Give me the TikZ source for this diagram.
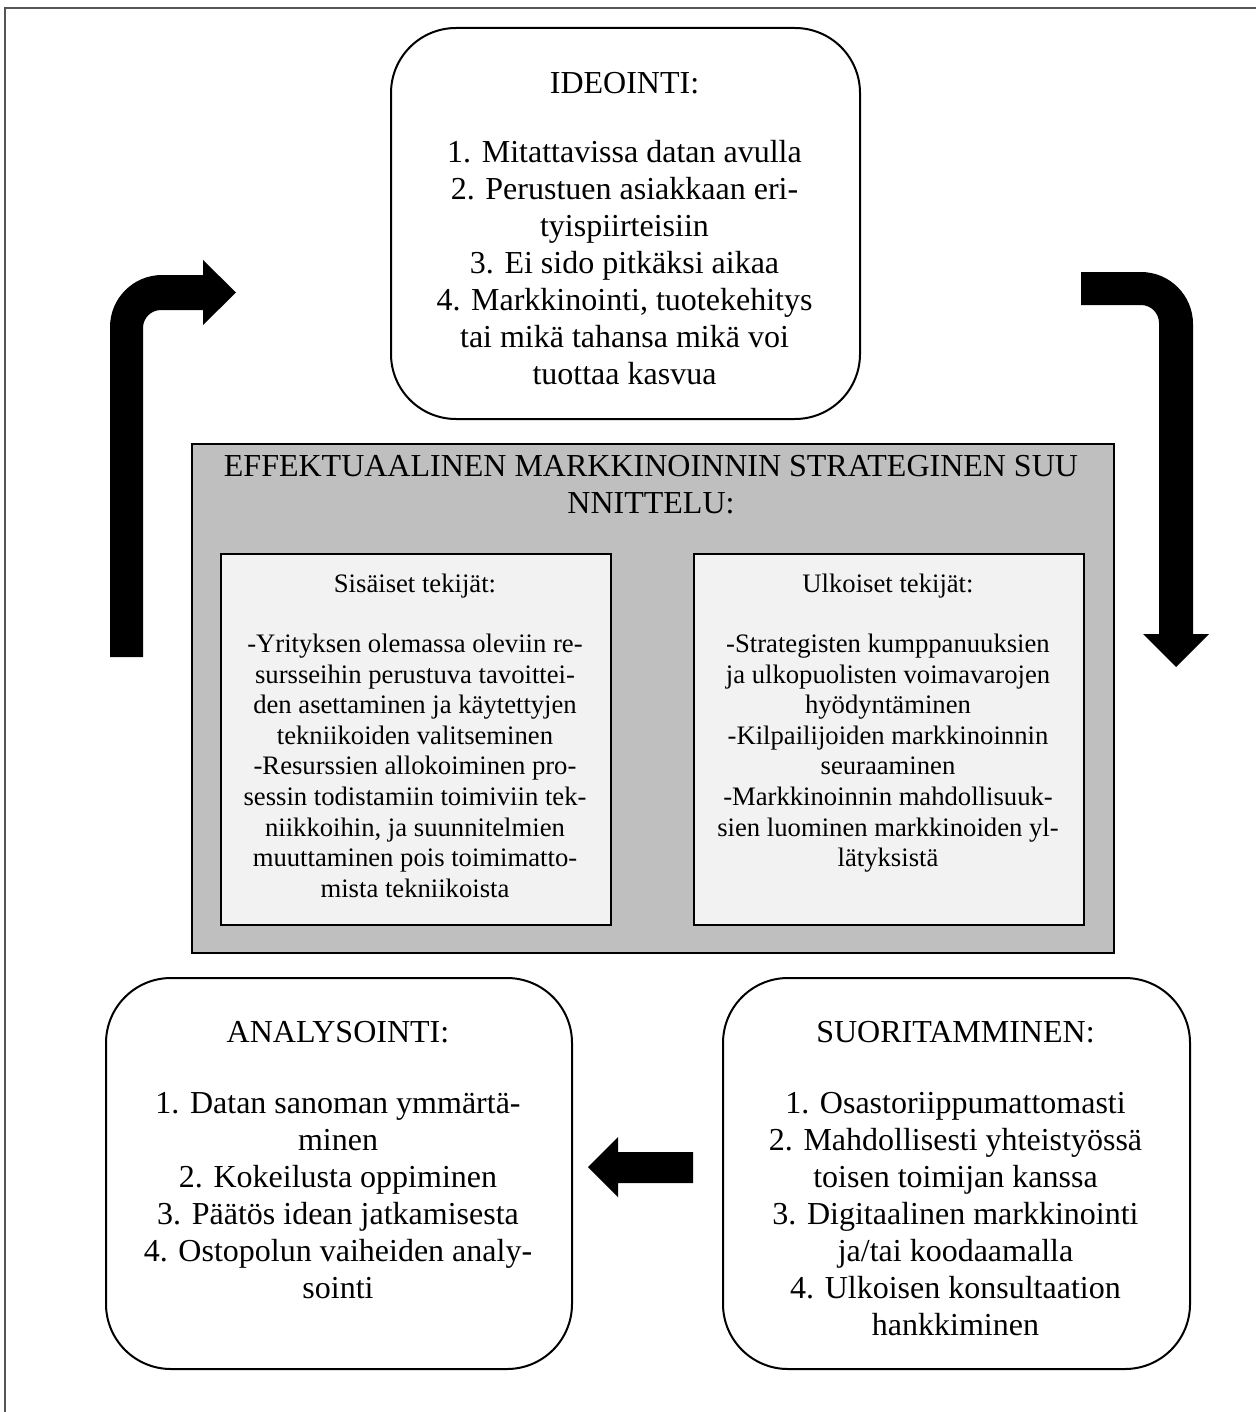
\documentclass[tikz,border=0pt]{standalone}
\usepackage{fontspec}
\setmainfont{Liberation Serif}
\definecolor{framegray}{HTML}{555555}
\definecolor{boxgray}{HTML}{BFBFBF}
\definecolor{innergray}{HTML}{F2F2F2}
\tikzset{
  roundbox/.style={draw=black, line width=1pt, fill=white, rounded corners=32.5pt, inner sep=0pt, anchor=north west},
  graybox/.style={draw=black, line width=1pt, fill=boxgray, inner sep=0pt, anchor=north west},
  innerbox/.style={draw=black, line width=1pt, fill=innergray, inner sep=0pt, anchor=north west},
  bigtxt/.style={font=\fontsize{16}{18.5}\selectfont, align=center, inner sep=0pt, anchor=north},
  smalltxt/.style={font=\fontsize{13.33}{15.3}\selectfont, align=center, inner sep=0pt, anchor=north},
  blockarrow/.style={fill=black}
}
\begin{document}
\begin{tikzpicture}[x=0.5pt, y=-0.5pt]
\useasboundingbox (0,0) rectangle (1256,1412);
\fill[white] (0,0) rectangle (1256,1412);
% page frame (top and left visible)
\coordinate (fbl) at (5,1412);
\coordinate (ftl) at (5,8);
\coordinate (ftr) at (1256,8);
\draw[framegray, line width=1pt] (fbl) -- (ftl) -- (ftr);

% boxes
\node[roundbox, minimum width=234.5pt, minimum height=195.5pt] (idea) at (390,27) {};
\node[graybox, minimum width=461pt, minimum height=254.5pt] (plan) at (191,443) {};
\node[innerbox, minimum width=195pt, minimum height=185.5pt] (inner) at (220,553) {};
\node[innerbox, minimum width=195pt, minimum height=185.5pt] (outer) at (693,553) {};
\node[roundbox, minimum width=233pt, minimum height=195.5pt] (anal) at (105,977) {};
\node[roundbox, minimum width=233.5pt, minimum height=195.5pt] (exec) at (722,977) {};

% texts
\node[bigtxt] (ideah) at (624.5,67) {\strut IDEOINTI:};
\node[bigtxt] (ideab) at (624.5,136) {\strut 1. Mitattavissa datan avulla\\
2. Perustuen asiakkaan eri-\\
tyispiirteisiin\\
3. Ei sido pitkäksi aikaa\\
4. Markkinointi, tuotekehitys\\
tai mikä tahansa mikä voi\\
tuottaa kasvua};

\node[bigtxt] (planh) at (651,450) {\strut EFFEKTUAALINEN MARKKINOINNIN STRATEGINEN SUU\\
NNITTELU:};

\node[smalltxt] (innerh) at (415,570.6) {\strut Sisäiset tekijät:};
\node[smalltxt] (innerb) at (415,630.6) {\strut -Yrityksen olemassa oleviin re-\\
sursseihin perustuva tavoittei-\\
den asettaminen ja käytettyjen\\
tekniikoiden valitseminen\\
-Resurssien allokoiminen pro-\\
sessin todistamiin toimiviin tek-\\
niikkoihin, ja suunnitelmien\\
muuttaminen pois toimimatto-\\
mista tekniikoista};

\node[smalltxt] (outerh) at (888,570.6) {\strut Ulkoiset tekijät:};
\node[smalltxt] (outerb) at (888,630.6) {\strut -Strategisten kumppanuuksien\\
ja ulkopuolisten voimavarojen\\
hyödyntäminen\\
-Kilpailijoiden markkinoinnin\\
seuraaminen\\
-Markkinoinnin mahdollisuuk-\\
sien luominen markkinoiden yl-\\
lätyksistä};

\node[bigtxt] (analh) at (338,1016) {\strut ANALYSOINTI:};
\node[bigtxt] (analb) at (338,1087) {\strut 1. Datan sanoman ymmärtä-\\
minen\\
2. Kokeilusta oppiminen\\
3. Päätös idean jatkamisesta\\
4. Ostopolun vaiheiden analy-\\
sointi};

\node[bigtxt] (exech) at (955.5,1016) {\strut SUORITAMMINEN:};
\node[bigtxt] (execb) at (955.5,1087) {\strut 1. Osastoriippumattomasti\\
2. Mahdollisesti yhteistyössä\\
toisen toimijan kanssa\\
3. Digitaalinen markkinointi\\
ja/tai koodaamalla\\
4. Ulkoisen konsultaation\\
hankkiminen};

% block arrows
% left: up then right
\fill[blockarrow] (110,657) -- (110,327)
  .. controls (110,298.3) and (133.3,275) .. (162,275)
  -- (203,275) -- (203,260) -- (236,292.5) -- (203,325) -- (203,310)
  -- (161,310)
  .. controls (151.06,310) and (143,318.06) .. (143,328)
  -- (143,657) -- cycle;
% right: right then down
\fill[blockarrow] (1081,272) -- (1141,272)
  .. controls (1169.7,272) and (1193,295.3) .. (1193,324)
  -- (1193,634) -- (1209,634) -- (1176,667) -- (1143,634) -- (1159,634)
  -- (1159,323)
  .. controls (1159,313.06) and (1150.94,305) .. (1141,305)
  -- (1081,305) -- cycle;
% bottom: pointing left
\fill[blockarrow] (693,1152) -- (618,1152) -- (618,1137) -- (588,1167)
  -- (618,1197) -- (618,1183) -- (693,1183) -- cycle;
\end{tikzpicture}
\end{document}
